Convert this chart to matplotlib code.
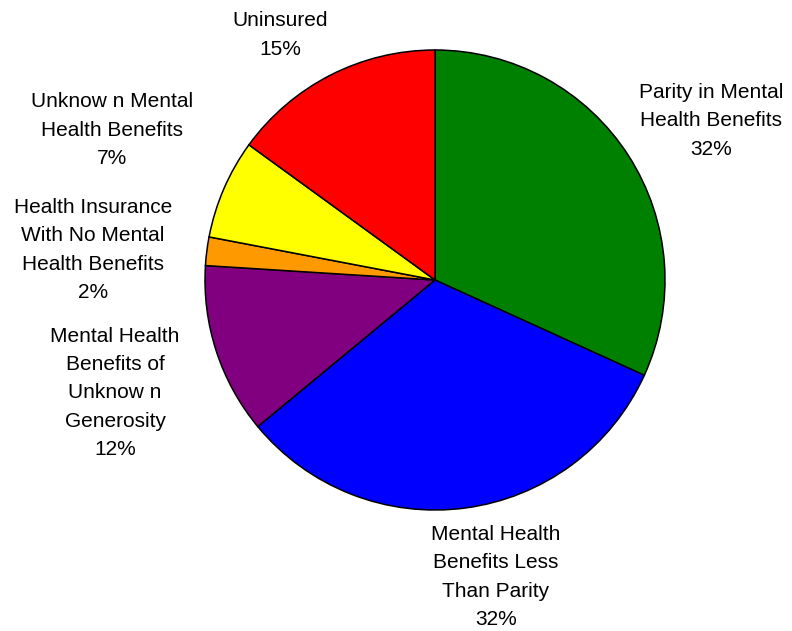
import matplotlib.pyplot as plt

plt.rcParams['font.family'] = ['Liberation Sans', 'DejaVu Sans']

labels = ['Parity in Mental\nHealth Benefits',
          'Mental Health\nBenefits Less\nThan Parity',
          'Mental Health\nBenefits of\nUnknow n\nGenerosity',
          'Health Insurance\nWith No Mental\nHealth Benefits',
          'Unknow n Mental\nHealth Benefits',
          'Uninsured']
shares = [31.8, 32.2, 12.0, 2.0, 7.0, 15.0]
colors = ['#008000', '#0000FF', '#800080', '#FF9900', '#FFFF00', '#FF0000']

# label centres in pixel coords (x, y from top)
label_pos = [(711, 121), (496, 577), (115, 393), (93, 250), (112, 130), (280, 35)]

W, H = 792, 631
fig = plt.figure(figsize=(W / 100, H / 100), dpi=100)
ax = fig.add_axes([0, 0, 1, 1])

ax.pie(shares, colors=colors, startangle=90, counterclock=False,
       center=(435, H - 280), radius=230, frame=True,
       wedgeprops=dict(edgecolor='black', linewidth=1.1))
ax.set_xlim(0, W)
ax.set_ylim(0, H)
ax.set_aspect('equal')
ax.axis('off')

for lab, v, (x, y) in zip(labels, shares, label_pos):
    ax.text(x, H - y, '%s\n%d%%' % (lab, round(v)), ha='center', va='center',
            fontsize=15, linespacing=1.62, color='black')

plt.savefig('out.png', dpi=100)
